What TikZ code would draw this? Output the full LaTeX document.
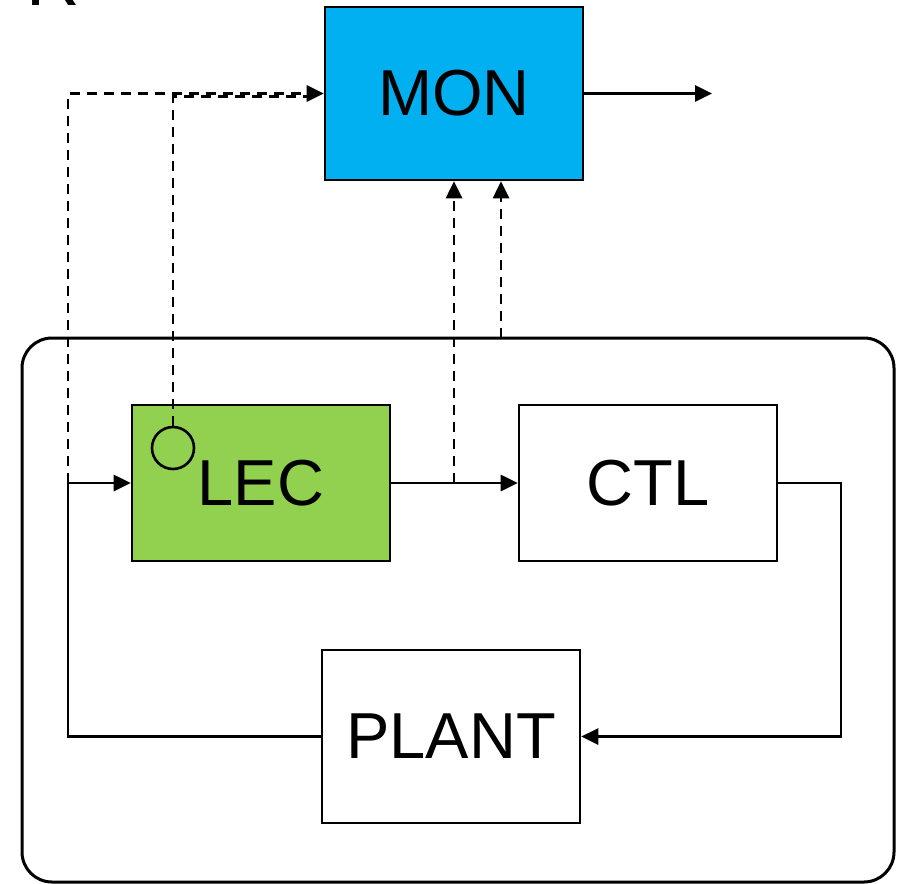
\documentclass[tikz,border=0pt]{standalone}
\usepackage{fontspec}
\setmainfont{Liberation Sans}
\usetikzlibrary{arrows.meta,calc}
\definecolor{moncol}{HTML}{00B0F0}
\definecolor{leccol}{HTML}{92D050}
\begin{document}
\begin{tikzpicture}[x=1pt,y=-1pt,
  blockbox/.style={draw=black,line width=2.6pt,minimum width=258pt,inner sep=0pt,font=\fontsize{65}{72}\selectfont},
  conn/.style={line width=2.8pt},
  arr/.style={conn,-{Triangle[length=17pt,width=16pt]}},
  dsh/.style={line width=2.8pt,dash pattern=on 10pt off 7pt},
  darr/.style={dsh,-{Triangle[length=17pt,width=16pt]}}]
\useasboundingbox (0,0) rectangle (899,883);
\clip (0,0) rectangle (899,883);
\node[anchor=base west,font=\fontsize{74}{80}\selectfont,inner sep=0pt] (rlet) at (26,6) {R};
% container
\node[draw=black,line width=3pt,rounded corners=30pt,minimum width=872pt,minimum height=544pt,inner sep=0pt] (box) at (458,610) {};
% blocks
\node[blockbox,fill=moncol,minimum height=173pt] (MON) at (454,93.5) {MON};
\node[blockbox,fill=leccol,minimum height=156pt] (LEC) at (261,483) {LEC};
\node[blockbox,fill=white,minimum height=156pt] (CTL) at (648,483) {CTL};
\node[blockbox,fill=white,minimum height=173pt] (PLANT) at (451,736.5) {PLANT};
\node[draw=black,line width=2.6pt,circle,minimum size=42pt,inner sep=0pt] (circ) at (173,448) {};
% coordinates
\coordinate (out) at (712,93.5);
\coordinate (rr) at (841,483);
\coordinate (jl) at (68,483);
\coordinate (jr) at (454,483);
\coordinate (bt) at (501,338);
\coordinate (ct) at (173,96.5);
\coordinate (cm) at (312,96.5);
% solid connectors
\draw[arr] (MON.east) -- (out);
\draw[arr] (LEC.east) -- (CTL.west);
\draw[arr] (CTL.east) -- (rr) |- (PLANT.east);
\draw[arr] (PLANT.west) -| (jl) -- (LEC.west);
% dashed connectors
\draw[darr] (jl) |- (MON.west);
\draw[dsh] (circ.north) -- (ct) -- (cm);
\draw[darr] (jr) -- (jr |- MON.south);
\draw[darr] (bt) -- (bt |- MON.south);
\end{tikzpicture}
\end{document}
